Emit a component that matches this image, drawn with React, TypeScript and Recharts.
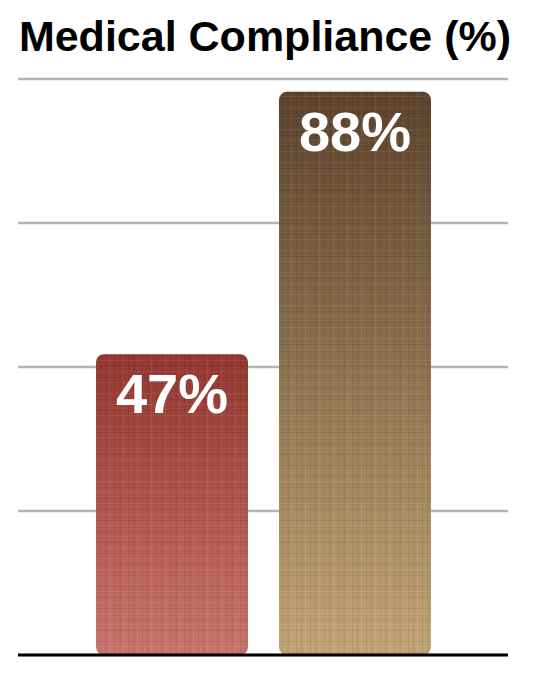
import { BarChart, Bar, Cell, CartesianGrid, XAxis, YAxis, ReferenceLine, LabelList } from "recharts";

const categories = ["Group A", "Group B"];
const compliance = [47, 88];
const yTicks = [0, 22.5, 45, 67.5, 90];

const gradients = [
  { id: "gradRed", top: "#933830", bottom: "#cc756f" },
  { id: "gradBrown", top: "#5d432d", bottom: "#c2a676" },
];

const data = categories.map((name, i) => ({ name, value: compliance[i] }));

const LinenBar = (props: any) => {
  const { x, y, width, height, index } = props;
  return (
    <g>
      <rect x={x} y={y} width={width} height={height} rx={8} ry={8} fill={`url(#${gradients[index].id})`} />
      <rect x={x} y={y} width={width} height={height} rx={8} ry={8} fill="url(#linen)" />
    </g>
  );
};

const ValueLabel = (props: any) => {
  const { x, y, width, value } = props;
  return (
    <text
      x={x + width / 2}
      y={y + 59}
      textAnchor="middle"
      fill="#ffffff"
      fontSize={56}
      fontWeight="bold"
      fontFamily="'Liberation Sans', Arial, sans-serif"
    >
      {value}%
    </text>
  );
};

export default function App() {
  return (
    <div style={{ position: "absolute", left: 0, top: 0, width: 536, height: 675, background: "#fff" }}>
      <div
        style={{
          position: "absolute",
          left: -3,
          top: 12,
          width: 536,
          textAlign: "center",
          fontFamily: "'Liberation Sans', Arial, sans-serif",
          fontWeight: "bold",
          fontSize: 43,
          lineHeight: "48px",
          color: "#000",
        }}
      >
        Medical Compliance (%)
      </div>
      <BarChart width={536} height={675} data={data} margin={{ top: 79, right: 28, bottom: 20, left: 18 }}>
        <defs>
          {gradients.map((g) => (
            <linearGradient key={g.id} id={g.id} x1="0" y1="0" x2="0" y2="1">
              <stop offset="0%" stopColor={g.top} />
              <stop offset="100%" stopColor={g.bottom} />
            </linearGradient>
          ))}
          <pattern id="linen" width="14" height="11" patternUnits="userSpaceOnUse">
            <rect x="2" y="0" width="1" height="11" fill="#000" opacity="0.08" />
            <rect x="7" y="0" width="2" height="11" fill="#000" opacity="0.06" />
            <rect x="11" y="0" width="1" height="11" fill="#fff" opacity="0.06" />
            <rect x="0" y="3" width="14" height="1" fill="#000" opacity="0.06" />
            <rect x="0" y="8" width="14" height="1" fill="#fff" opacity="0.05" />
          </pattern>
        </defs>
        <CartesianGrid vertical={false} stroke="#b4b4b4" strokeWidth={2.5} />
        <XAxis dataKey="name" hide padding={{ left: 62, right: 62 }} />
        <YAxis hide domain={[0, 90]} ticks={yTicks} />
        <Bar dataKey="value" barSize={152} shape={<LinenBar />} isAnimationActive={false}>
          {data.map((d, i) => (
            <Cell key={d.name} fill={`url(#${gradients[i].id})`} />
          ))}
          <LabelList dataKey="value" content={<ValueLabel />} />
        </Bar>
        <ReferenceLine y={0} stroke="#000" strokeWidth={3} />
      </BarChart>
    </div>
  );
}
